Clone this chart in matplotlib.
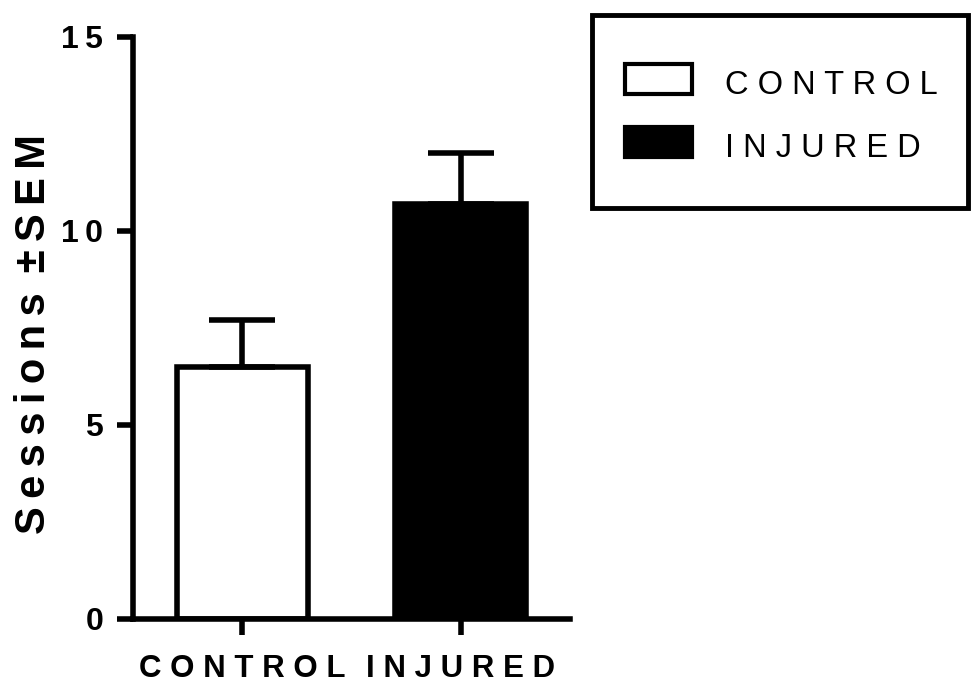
import matplotlib
matplotlib.use("Agg")
import matplotlib.pyplot as plt
from matplotlib.patches import Rectangle, Patch
from matplotlib.legend_handler import HandlerPatch

groups = ["CONTROL", "INJURED"]
means = [6.5, 10.7]
sem = [1.2, 1.3]
bar_colors = ["white", "black"]
yticks = [0, 5, 10, 15]
ylabel = "Sessions ±SEM"

plt.rcParams['font.family'] = ['Liberation Sans', 'DejaVu Sans']

THIN = "\u2009"

fig = plt.figure(figsize=(9.71, 6.85), dpi=100)
ax = fig.add_axes([133/971, 66/685, 437/971, 582/685])

x = list(range(len(groups)))
ax.bar(x, means, width=0.6, color=bar_colors, edgecolor='black', linewidth=4, zorder=2)
# only the upper half of the SEM bar is shown
ax.errorbar(x, means, yerr=[[0]*len(sem), sem], fmt='none', ecolor='black',
            elinewidth=4, capsize=24, capthick=4, zorder=3)

ax.set_xlim(-0.5, 1.5)
ax.set_ylim(0, 15)

for side in ['top', 'right']:
    ax.spines[side].set_visible(False)
for side in ['left', 'bottom']:
    ax.spines[side].set_linewidth(4)
    ax.spines[side].set_capstyle('projecting')

ax.tick_params(axis='both', direction='out', length=11.5, width=4)
ax.tick_params(axis='y', pad=10)
ax.tick_params(axis='x', pad=14)

ax.set_yticks(yticks)
ax.set_yticklabels([THIN.join(str(v)) for v in yticks], fontsize=23, fontweight='bold')
ax.set_xticks(x)
ax.set_xticklabels([" ".join(g) for g in groups], fontsize=22.5, fontweight='bold')

# letter-spaced y label
words = ylabel.split(" ")
spaced_label = (THIN + " ").join(THIN.join(w) for w in words)
ax.set_ylabel(spaced_label, fontsize=30, fontweight='bold')
ax.yaxis.set_label_coords(-0.18, 0.49)


def raised_box(legend, orig_handle, xdescent, ydescent, width, height, fontsize):
    # legend boxes sit a little above the text centre
    return Rectangle((-xdescent, -ydescent + 3), width, height)


handles = [Patch(facecolor=c, edgecolor='black', linewidth=3) for c in bar_colors]
fig.legend(handles, [" ".join(g) for g in groups], loc='center left',
           bbox_to_anchor=(625/971, (685-116)/685), frameon=False, fontsize=23.5,
           handlelength=2.05, handleheight=1.05, handletextpad=1.0,
           labelspacing=0.9, borderpad=0, borderaxespad=0,
           handler_map={Patch: HandlerPatch(patch_func=raised_box)})
fig.add_artist(Rectangle((592/971, (685-208)/685), (968-592)/971, (208-15)/685,
                         transform=fig.transFigure, fill=False,
                         edgecolor='black', linewidth=3.5))

fig.savefig('out.png', dpi=100)
